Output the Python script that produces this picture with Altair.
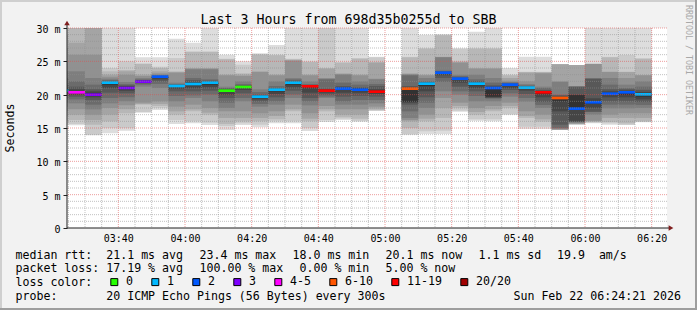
import altair as alt
import pandas as pd

TITLE = "Last 3 Hours from 698d35b0255d to SBB"
Y_TITLE = "Seconds"
WATERMARK = "RRDTOOL / TOBI OETIKER"
STAMP = "Sun Feb 22 06:24:21 2026"
FONT = "DejaVu Sans Mono"

# 5-minute columns (start time of each interval)
col_times = ["03:20", "03:25", "03:30", "03:35", "03:40", "03:45", "03:50", "03:55",
             "04:00", "04:05", "04:10", "04:15", "04:20", "04:25", "04:30", "04:35",
             "04:40", "04:45", "04:50", "04:55", "05:00", "05:05", "05:10", "05:15",
             "05:20", "05:25", "05:30", "05:35", "05:40", "05:45", "05:50", "05:55",
             "06:00", "06:05", "06:10", "06:15"]

# median rtt (ms) per column
medians = [20.6, 20.35, 20.0, 21.8, 21.0, 21.95, 22.7, 21.3, 21.6, 21.8, 20.6, 21.15,
           19.7, 20.75, 21.8, 21.25, 20.6, 20.9, 20.75, 20.45, None, 20.9, 21.65, 23.3,
           22.4, 21.65, 21.0, 21.5, 21.05, 20.35, 19.5, 17.9, 18.85, 20.15, 20.35, 20.05]

# lost pings (of 20) per column
losses = [1, 4, 3, 1, 3, 3, 2, 1, 1, 1, 0, 0, 1, 1, 1, 11, 11, 2, 2, 11, 20, 7,
          1, 2, 2, 1, 2, 2, 1, 11, 7, 2, 2, 2, 2, 1]

# sorted ping rtts (ms) per column (20 slots)
pings = [
    [15.5, 16.0, 16.8, 17.5, 18.2, 18.8, 19.4, 19.9, 20.2, 20.5, 20.7, 21.0, 21.5, 22.5, 23.5, 25.0, 27.0, 29.0, 31.0, 33.0],
    [15.4, 15.6, 16.2, 17.0, 17.8, 18.7, 19.3, 19.7, 20.0, 20.2, 20.5, 20.8, 21.2, 22.0, 23.5, 26.0, 27.8, 31.0, 32.0, 34.0],
    [13.9, 14.0, 15.5, 16.2, 17.0, 17.8, 18.5, 19.2, 19.6, 19.9, 20.2, 20.5, 20.8, 21.5, 22.5, 26.0, 30.5, 31.5, 33.0, 35.0],
    [14.2, 15.0, 16.0, 17.0, 18.0, 18.7, 19.5, 20.3, 21.0, 21.5, 21.8, 21.9, 22.0, 22.2, 22.4, 22.7, 23.0, 23.5, 24.0, 31.0],
    [14.6, 15.0, 17.2, 17.8, 18.4, 19.0, 19.6, 20.2, 20.6, 20.9, 21.15, 21.25, 21.4, 21.6, 21.9, 23.0, 23.5, 23.7, 25.0, 31.0],
    [17.3, 17.4, 18.5, 18.6, 18.8, 21.2, 21.5, 21.7, 21.8, 21.9, 22.0, 22.1, 22.2, 22.3, 22.5, 22.8, 23.0, 24.6, 24.7, 25.6],
    [17.7, 18.0, 18.3, 18.6, 19.0, 21.0, 21.6, 22.0, 22.3, 22.6, 22.7, 22.75, 22.8, 22.9, 23.0, 23.2, 23.5, 24.0, 24.2, 25.6],
    [15.6, 16.2, 17.0, 17.5, 18.2, 19.0, 19.8, 20.5, 20.9, 21.2, 21.35, 21.4, 21.5, 21.6, 21.8, 23.3, 23.4, 23.5, 25.5, 28.4],
    [15.7, 16.0, 17.5, 17.8, 18.5, 19.5, 19.9, 20.5, 21.0, 21.4, 21.7, 21.9, 22.2, 22.5, 23.8, 23.9, 24.0, 26.4, 26.5, 27.8],
    [15.45, 15.8, 17.0, 17.3, 18.0, 19.0, 20.0, 20.6, 21.1, 21.5, 21.9, 22.0, 22.1, 22.3, 23.8, 23.9, 24.0, 26.4, 26.5, 31.0],
    [14.7, 15.3, 15.6, 16.5, 17.5, 18.0, 18.8, 19.5, 20.0, 20.4, 20.7, 20.8, 20.9, 21.0, 21.2, 22.9, 23.0, 25.3, 25.4, 26.0],
    [15.45, 15.7, 16.0, 16.5, 17.5, 19.0, 19.5, 20.2, 20.7, 21.0, 21.2, 21.3, 21.4, 21.6, 22.0, 22.8, 23.0, 23.2, 24.5, 25.0],
    [15.1, 15.5, 16.0, 16.5, 17.2, 18.2, 18.6, 19.0, 19.3, 19.6, 19.8, 19.9, 20.0, 20.4, 20.8, 23.4, 23.5, 26.0, 26.1, 26.2],
    [15.7, 16.0, 16.3, 16.8, 17.5, 18.5, 19.0, 19.6, 20.1, 20.5, 20.8, 20.9, 21.0, 21.3, 22.0, 22.9, 23.0, 25.9, 26.0, 27.45],
    [15.7, 16.0, 17.5, 17.8, 18.5, 19.5, 20.0, 20.6, 21.1, 21.5, 21.9, 22.0, 22.1, 22.3, 22.5, 25.1, 25.2, 25.3, 25.4, 31.0],
    [14.55, 15.0, 16.0, 16.4, 17.2, 18.4, 19.0, 19.5, 20.3, 21.0, 21.3, 21.35, 21.45, 21.6, 22.0, 22.9, 23.0, 24.9, 25.0, 31.0],
    [15.9, 16.2, 17.5, 17.8, 18.3, 19.5, 19.7, 20.0, 20.3, 20.5, 20.7, 20.8, 20.9, 22.3, 22.4, 22.5, 23.9, 24.0, 30.5, 31.0],
    [16.2, 16.4, 16.6, 17.0, 17.8, 18.5, 19.0, 19.7, 20.3, 20.7, 21.0, 21.1, 21.3, 21.8, 23.0, 23.1, 23.2, 24.8, 24.9, 31.0],
    [15.95, 16.1, 16.4, 17.0, 17.8, 18.5, 19.2, 19.8, 20.3, 20.6, 20.9, 21.0, 21.1, 21.5, 22.0, 22.9, 23.0, 25.4, 25.5, 31.0],
    [17.55, 17.6, 17.7, 17.9, 18.2, 18.7, 19.2, 19.7, 20.1, 20.3, 20.6, 20.8, 21.3, 21.6, 22.3, 22.4, 24.8, 24.9, 25.6, 25.7],
    None,
    [13.95, 14.1, 15.0, 16.0, 16.2, 16.5, 17.5, 18.5, 18.8, 18.9, 21.0, 21.1, 21.3, 22.9, 23.0, 23.1, 23.2, 25.6, 25.7, 31.0],
    [14.1, 14.5, 16.0, 16.4, 17.0, 18.0, 18.8, 19.6, 20.5, 21.3, 21.7, 21.8, 21.9, 22.0, 22.5, 22.9, 23.0, 26.9, 27.0, 29.0],
    [14.1, 14.6, 16.5, 18.0, 19.5, 20.5, 21.9, 22.5, 22.9, 23.1, 23.35, 23.4, 23.5, 23.6, 25.6, 25.65, 25.7, 28.9, 29.0, 29.05],
    [17.45, 17.6, 18.0, 18.3, 18.8, 20.0, 20.5, 21.2, 21.8, 22.2, 22.4, 22.5, 22.6, 22.8, 23.0, 24.8, 24.9, 25.0, 26.9, 26.95],
    [16.1, 16.3, 17.0, 17.4, 18.0, 19.0, 19.8, 20.5, 21.0, 21.4, 21.7, 21.8, 22.0, 22.3, 23.0, 23.9, 24.0, 26.9, 27.0, 29.45],
    [16.0, 16.3, 17.5, 17.8, 18.3, 19.0, 19.4, 19.5, 19.6, 19.7, 21.1, 21.2, 21.4, 21.8, 22.5, 23.9, 24.0, 26.9, 27.0, 30.5],
    [16.95, 17.1, 18.0, 18.3, 18.8, 19.7, 20.2, 20.7, 21.0, 21.3, 21.55, 21.6, 21.7, 21.8, 21.9, 22.1, 22.5, 22.9, 23.0, 24.0],
    [14.85, 15.2, 16.5, 16.8, 17.5, 18.95, 19.5, 20.1, 20.6, 20.9, 21.1, 21.15, 21.25, 21.4, 21.6, 22.0, 23.3, 23.4, 23.45, 25.7],
    [14.85, 15.2, 15.95, 16.3, 17.0, 18.0, 18.45, 18.9, 19.6, 20.1, 20.4, 20.5, 20.7, 21.0, 21.2, 23.2, 23.3, 23.4, 23.45, 25.7],
    [14.7, 14.7, 14.7, 14.75, 14.8, 14.9, 15.0, 15.5, 17.5, 19.0, 19.6, 19.7, 19.9, 20.0, 21.95, 21.95, 24.55, 24.55, 24.55, 24.55],
    [15.5, 15.5, 15.6, 15.6, 15.7, 15.8, 15.9, 15.95, 16.0, 17.8, 19.95, 20.0, 21.2, 21.2, 21.2, 21.2, 24.45, 24.45, 24.45, 24.45],
    [15.7, 15.8, 15.9, 16.0, 16.1, 17.0, 17.4, 17.45, 18.0, 18.6, 19.0, 19.45, 22.4, 22.4, 22.45, 24.6, 24.6, 24.6, 24.7, 31.0],
    [15.5, 15.7, 15.9, 16.5, 17.0, 17.95, 18.5, 19.0, 19.6, 20.0, 20.3, 20.5, 20.8, 21.5, 22.5, 23.4, 23.45, 25.6, 25.7, 31.0],
    [15.45, 15.5, 15.7, 16.5, 17.2, 17.95, 18.5, 19.0, 19.6, 20.0, 20.45, 20.6, 20.8, 21.0, 21.5, 22.5, 23.4, 23.45, 25.95, 31.0],
    [15.85, 15.9, 16.0, 16.5, 17.2, 18.0, 18.45, 18.9, 19.3, 19.7, 20.2, 20.4, 20.7, 21.2, 22.0, 22.9, 22.95, 25.4, 25.45, 31.0],
]

# smoke shades, outermost band first
shades = ["#dddddd", "#cacaca", "#b7b7b7", "#a4a4a4", "#919191",
          "#7e7e7e", "#6b6b6b", "#585858", "#454545", "#323232"]

loss_labels = ["0", "1", "2", "3", "4-5", "6-10", "11-19", "20/20"]
loss_colors = ["#26ff00", "#00b8ff", "#0059ff", "#7e00ff", "#ff00ff", "#ff5500", "#ff0000", "#a10000"]
loss_upper = [0, 1, 2, 3, 5, 10, 19, 20]

y_major = [0, 5, 10, 15, 20, 25, 30]
y_minor = [1, 2, 3, 4, 6, 7, 8, 9, 11, 12, 13, 14, 16, 17, 18, 19, 21, 22, 23, 24, 26, 27, 28, 29]
x_major_times = ["03:40", "04:00", "04:20", "04:40", "05:00", "05:20", "05:40", "06:00", "06:20"]
x_minor_times = ["03:25", "03:30", "03:35", "03:45", "03:50", "03:55", "04:05", "04:10", "04:15",
                 "04:25", "04:30", "04:35", "04:45", "04:50", "04:55", "05:05", "05:10", "05:15",
                 "05:25", "05:30", "05:35", "05:45", "05:50", "05:55", "06:05", "06:10", "06:15"]
x_window = ["03:24:36", "06:24:36"]

row1_texts = ["median rtt:  21.1 ms avg", "23.4 ms max", "18.0 ms min", "20.1 ms now", "1.1 ms sd", "19.9  am/s"]
row1_x = [15.5, 199.5, 292.5, 385.5, 478.5, 557.0]
row2_texts = ["packet loss: 17.19 % avg", "100.00 % max", "0.00 % min", "5.00 % now"]
row2_x = [15.5, 199.5, 299.5, 385.5]
row3_text = "loss color:"
row4_text = "probe:       20 ICMP Echo Pings (56 Bytes) every 300s"


def to_min(s):
    parts = [int(p) for p in s.split(":")]
    return parts[0] * 60 + parts[1] + (parts[2] / 60 if len(parts) > 2 else 0)


def loss_cat(n):
    for lab, up in zip(loss_labels, loss_upper):
        if n <= up:
            return lab
    return loss_labels[-1]


smoke_rows = []
med_rows = []
for t, med, loss, p in zip(col_times, medians, losses, pings):
    s = to_min(t)
    if p is None:
        continue
    for k in range(10):
        smoke_rows.append({"band": k, "start": s, "end": s + 5,
                           "lo": p[k], "hi": p[19 - k], "shade": shades[k]})
    med_rows.append({"start": s, "end": s + 5, "mlo": med - 0.2, "mhi": med + 0.2,
                     "loss": loss_cat(loss)})

smoke_df = pd.DataFrame(smoke_rows).sort_values(["band", "start"])
med_df = pd.DataFrame(med_rows)

W, H = 600, 200
OX, OY = 67, 28

xscale = alt.Scale(domain=[to_min(x_window[0]), to_min(x_window[1])], nice=False, zero=False)
yscale = alt.Scale(domain=[0, 30], nice=False, zero=True)

x_axis = alt.Axis(values=[to_min(t) for t in x_major_times],
                  labelExpr="timeFormat(datetime(2026, 1, 22, 0, datum.value), '%H:%M')",
                  tickSize=0, domain=False, grid=False, title=None,
                  labelFont=FONT, labelFontSize=10, labelColor="black",
                  labelPadding=5, labelFlush=False, labelOverlap=False)
y_axis = alt.Axis(values=y_major,
                  labelExpr="datum.value == 0 ? '0\u00a0' : datum.value + '\u00a0m'",
                  tickSize=4, tickColor="#1f1f1f", domain=False, grid=False, title=None,
                  labelFont=FONT, labelFontSize=10, labelColor="black",
                  labelPadding=3, labelFlush=False, labelOverlap=False, labelOffset=1.5)


def X(field):
    return alt.X(field, type="quantitative", scale=xscale, axis=x_axis)


def Y(field):
    return alt.Y(field, type="quantitative", scale=yscale, axis=y_axis)


smoke = alt.Chart(smoke_df).mark_rect(clip=True, strokeWidth=0).encode(
    x=X("start"), x2="end", y=Y("lo"), y2="hi",
    fill=alt.Fill("shade:N", scale=None),
)

median = alt.Chart(med_df).mark_rect(clip=True, strokeWidth=0).encode(
    x=X("start"), x2="end", y=Y("mlo"), y2="mhi",
    color=alt.Color("loss:N", scale=alt.Scale(domain=loss_labels, range=loss_colors),
                    legend=alt.Legend(orient="none", legendX=41.5, legendY=248,
                                      direction="horizontal", title=None,
                                      symbolType="square", symbolSize=49,
                                      symbolStrokeColor="black", symbolStrokeWidth=1,
                                      symbolOpacity=1, labelFont=FONT, labelFontSize=11.6,
                                      labelColor="black", labelOffset=6, columnPadding=16,
                                      padding=0)),
)

grid_y_minor = alt.Chart(pd.DataFrame({"v": y_minor})).mark_rule(
    color="#8f8f8f", strokeDash=[1, 1], opacity=0.55, strokeWidth=1).encode(y=Y("v"))
grid_y_major = alt.Chart(pd.DataFrame({"v": y_major[1:]})).mark_rule(
    color="#de4f4f", strokeDash=[1, 1], opacity=0.55, strokeWidth=1).encode(y=Y("v"))
grid_x_minor = alt.Chart(pd.DataFrame({"v": [to_min(t) for t in x_minor_times]})).mark_rule(
    color="#8f8f8f", strokeDash=[1, 1], opacity=0.55, strokeWidth=1).encode(x=X("v"))
grid_x_major = alt.Chart(pd.DataFrame({"v": [to_min(t) for t in x_major_times]})).mark_rule(
    color="#de4f4f", strokeDash=[1, 1], opacity=0.55, strokeWidth=1).encode(x=X("v"))

one = alt.Data(values=[{"a": 1}])

axis_lines = [
    alt.Chart(one).mark_rule(color="#1f1f1f", strokeWidth=1).encode(
        x=alt.value(0), y=alt.value(H), y2=alt.value(-3)),
    alt.Chart(one).mark_rule(color="#1f1f1f", strokeWidth=1).encode(
        x=alt.value(0), x2=alt.value(W + 2), y=alt.value(H)),
    alt.Chart(one).mark_point(shape="triangle-up", filled=True, color="#801f1f", size=30, opacity=1).encode(
        x=alt.value(0), y=alt.value(-5)),
    alt.Chart(one).mark_point(shape="triangle-right", filled=True, color="#801f1f", size=30, opacity=1).encode(
        x=alt.value(W + 4), y=alt.value(H)),
]

frame = [
    alt.Chart(one).mark_rule(color="#cfcfcf", strokeWidth=2).encode(
        x=alt.value(-OX), x2=alt.value(697 - OX), y=alt.value(1 - OY)),
    alt.Chart(one).mark_rule(color="#cfcfcf", strokeWidth=2).encode(
        x=alt.value(1 - OX), y=alt.value(-OY), y2=alt.value(310 - OY)),
    alt.Chart(one).mark_rule(color="#9e9e9e", strokeWidth=2).encode(
        x=alt.value(-OX), x2=alt.value(697 - OX), y=alt.value(309 - OY)),
    alt.Chart(one).mark_rule(color="#9e9e9e", strokeWidth=2).encode(
        x=alt.value(696 - OX), y=alt.value(-OY), y2=alt.value(310 - OY)),
]


def label(text, x, y, size=11.6, align="left", baseline="alphabetic", angle=0, color="black"):
    return alt.Chart(one).mark_text(text=text.replace(" ", "\u00a0"), font=FONT, fontSize=size,
                                    align=align, baseline=baseline, angle=angle, color=color).encode(
        x=alt.value(x), y=alt.value(y))


texts = [
    label(TITLE, 348.5 - OX, 24 - OY, size=13.3, align="center"),
    label(Y_TITLE, 11 - OX, 128 - OY, size=11.6, align="center", baseline="middle", angle=270),
    label(WATERMARK, 688 - OX, 60 - OY, size=8.3, align="center", baseline="middle", angle=90, color="#a8a8a8"),
    label(row3_text, 15.5 - OX, 285.9 - OY),
    label(row4_text, 15.5 - OX, 299.6 - OY),
    label(STAMP, 681 - OX, 299.6 - OY, align="right"),
]
for t, x in zip(row1_texts, row1_x):
    texts.append(label(t, x - OX, 258.5 - OY))
for t, x in zip(row2_texts, row2_x):
    texts.append(label(t, x - OX, 272.2 - OY))

chart = alt.layer(
    smoke, median, grid_y_minor, grid_x_minor, grid_y_major, grid_x_major,
    *axis_lines, *frame, *texts
).properties(
    width=W, height=H,
    autosize=alt.AutoSizeParams(type="none"),
    padding={"left": OX, "top": OY, "right": 697 - OX - W, "bottom": 310 - OY - H},
    background="#f2f2f2",
).configure_view(stroke=None, fill="white")

chart.save("out.html", embed_options={"renderer": "svg", "actions": False})
